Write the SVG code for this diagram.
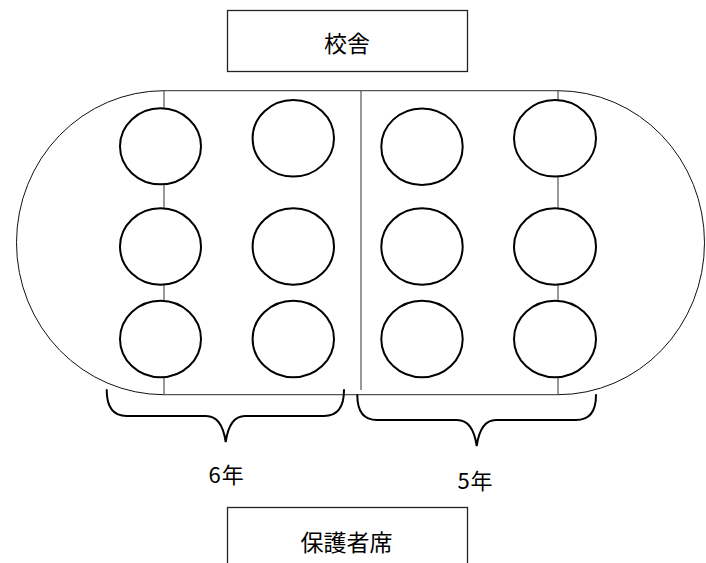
<svg xmlns="http://www.w3.org/2000/svg" width="706" height="563" viewBox="0 0 706 563">
<style>
.box{fill:#fff;stroke:#222;stroke-width:1.3}
.fl{fill:none;stroke:#555;stroke-width:1.2}
.arc{fill:none;stroke:#111;stroke-width:1}
.seat{fill:#fff;stroke:#000;stroke-width:2}
.brace{fill:none;stroke:#000;stroke-width:2;stroke-linecap:round}
.t{font-family:"Noto Sans CJK JP","Noto Sans",sans-serif;fill:#000;text-anchor:middle}
</style>
<rect width="706" height="563" fill="#fff"/>
<g id="school">
<rect class="box" x="227.5" y="10.5" width="240" height="61"/>
<text class="t" x="347" y="51.5" font-size="23">校舎</text>
</g>
<g id="field">
<path class="arc" d="M164,90.7 A147.5,152 0 0 0 164,394.7"/>
<path class="arc" d="M558,90.7 A146.5,152 0 0 1 558,394.7"/>
<path class="fl" d="M164,90.7 H558 M164,394.7 H558 M164,90.7 V394.7 M558,90.7 V394.7 M361,90.7 V390"/>
</g>
<g id="seats">
<ellipse class="seat" cx="160.5" cy="146.3" rx="40.5" ry="38"/>
<ellipse class="seat" cx="293.3" cy="138.3" rx="40.7" ry="38.3"/>
<ellipse class="seat" cx="422" cy="146.7" rx="40.7" ry="38.3"/>
<ellipse class="seat" cx="555" cy="138.3" rx="41" ry="38.3"/>
<ellipse class="seat" cx="160.5" cy="246.5" rx="40.5" ry="38.3"/>
<ellipse class="seat" cx="293.3" cy="246.5" rx="40.7" ry="38.3"/>
<ellipse class="seat" cx="422" cy="246.5" rx="40.7" ry="38.3"/>
<ellipse class="seat" cx="555" cy="246.5" rx="41" ry="38.3"/>
<ellipse class="seat" cx="160.5" cy="339" rx="40.5" ry="38.3"/>
<ellipse class="seat" cx="293.3" cy="339" rx="40.7" ry="38.3"/>
<ellipse class="seat" cx="422" cy="339" rx="40.7" ry="38.3"/>
<ellipse class="seat" cx="555" cy="339" rx="41" ry="38.3"/>
</g>
<g id="grade6">
<path class="brace" d="M106.7,390 Q106.7,416 126.7,416 L206,416 Q222,416 225.7,442 Q229.4,416 245,416 L324,416 Q344,416 344,390"/>
<text class="t" x="226.7" y="483" font-size="22" letter-spacing="1">6年</text>
</g>
<g id="grade5">
<path class="brace" d="M357.3,395 Q357.3,420 377,420 L457,420 Q473,420 476.7,446 Q480.4,420 496,420 L576,420 Q596,420 596,395"/>
<text class="t" x="475.5" y="488.5" font-size="22" letter-spacing="1">5年</text>
</g>
<g id="parents">
<rect class="box" x="227.5" y="507.5" width="240" height="61"/>
<text class="t" x="346.5" y="550.5" font-size="23">保護者席</text>
</g>
</svg>
